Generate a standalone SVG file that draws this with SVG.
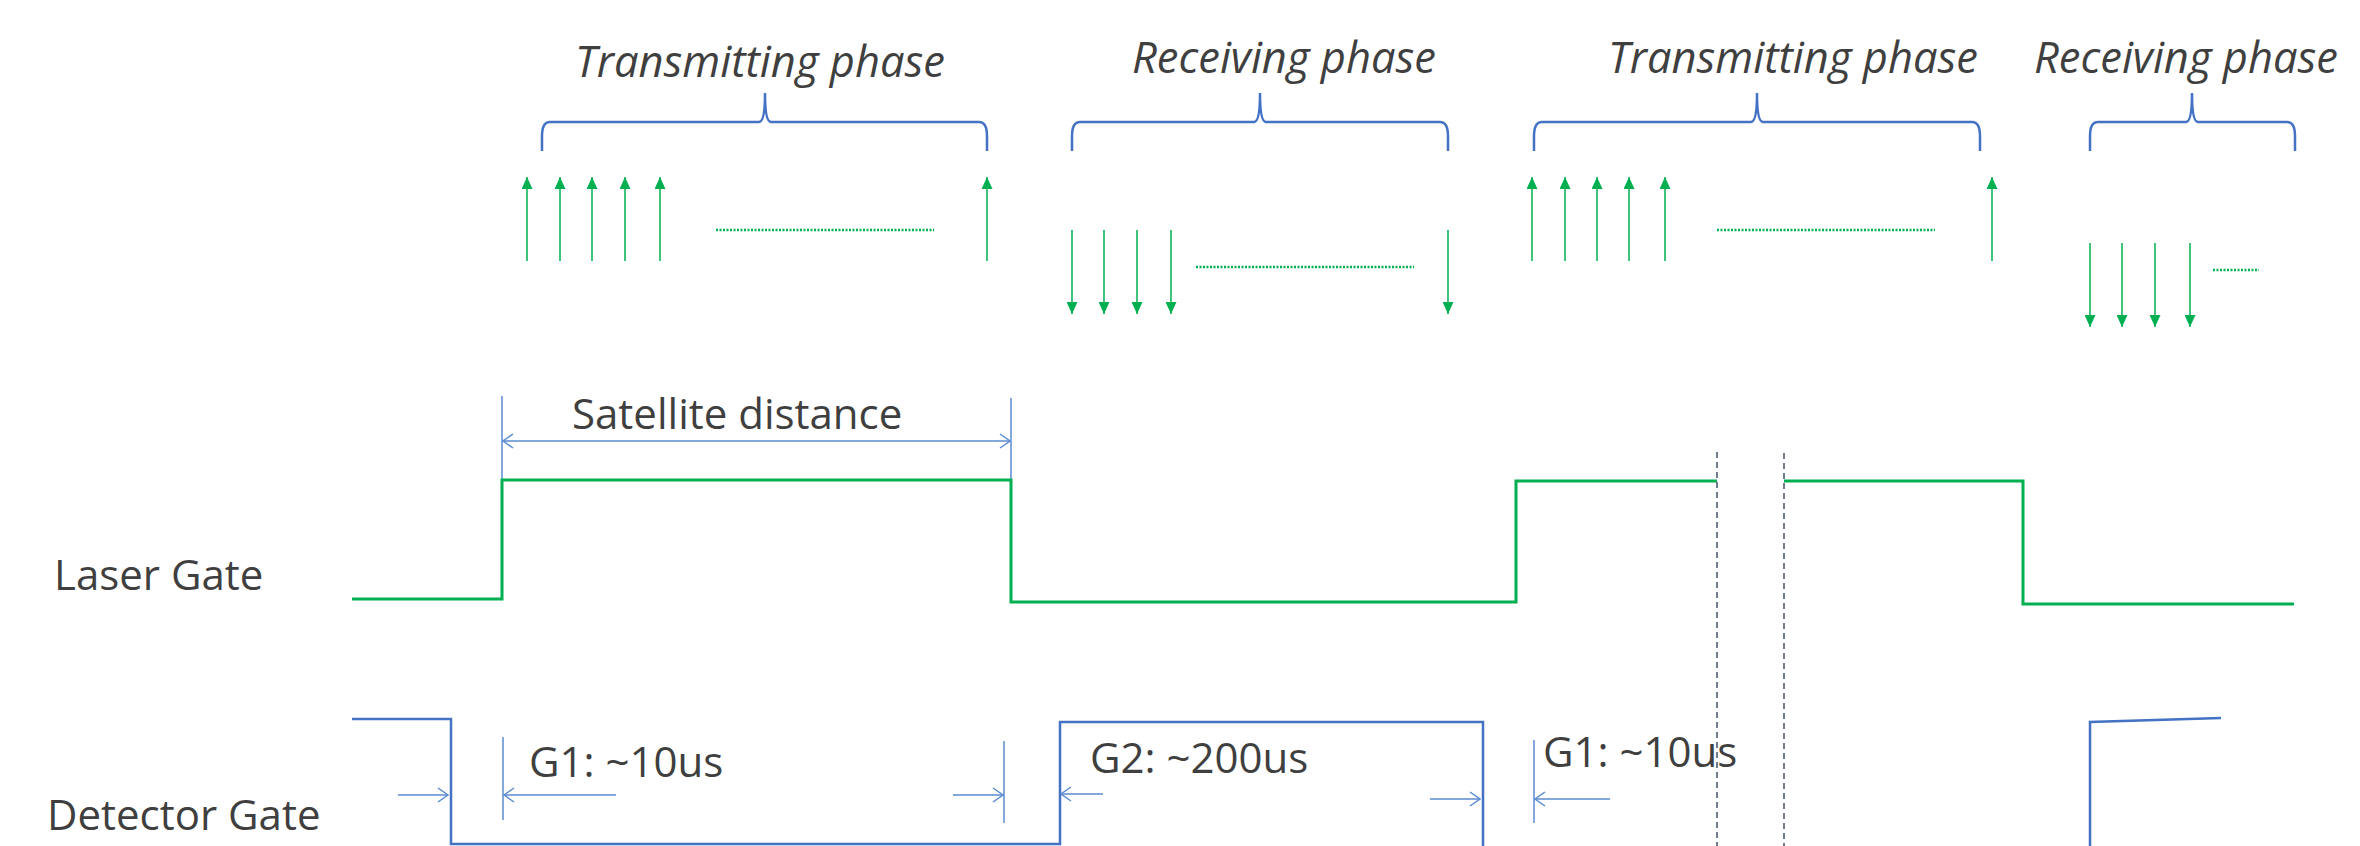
<svg xmlns="http://www.w3.org/2000/svg" width="2360" height="846" viewBox="0 0 2360 846">
<defs>
<style>
.t{font-family:"Open Sans","Liberation Sans",sans-serif;font-size:42px;fill:#3f3f3f}
.h{font-family:"Open Sans","Liberation Sans",sans-serif;font-size:43.5px;font-style:italic;fill:#3f3f3f;text-anchor:middle}
.brace{fill:none;stroke:#4472C4;stroke-width:2.5}
.sig{fill:none;stroke:#00B050;stroke-width:3}
.det{fill:none;stroke:#4472C4;stroke-width:2.5}
.pulse{stroke:#00B050;stroke-width:1.5;fill:none}
.dots{stroke:#00B050;stroke-width:2.5;stroke-dasharray:2 1.5;fill:none}
.dim{stroke:#5B8BD0;stroke-width:1.5;fill:none}
.dash{stroke:#44546A;stroke-width:1.5;stroke-dasharray:6 4;fill:none}
</style>
<marker id="head" viewBox="0 0 12 11" refX="12" refY="5.5" markerWidth="12" markerHeight="11" markerUnits="userSpaceOnUse" orient="auto">
<path d="M0,0 L12,5.5 L0,11 Z" fill="#00B050"/>
</marker>
<marker id="open" viewBox="0 0 12 16" refX="11" refY="8" markerWidth="12" markerHeight="16" markerUnits="userSpaceOnUse" orient="auto-start-reverse">
<path d="M1,1 L11,8 L1,15" fill="none" stroke="#5B8BD0" stroke-width="1.5"/>
</marker>
</defs>

<g id="headings">
<text class="h" x="760" y="77">Transmitting phase</text>
<text class="h" x="1284" y="73">Receiving phase</text>
<text class="h" x="1793" y="73">Transmitting phase</text>
<text class="h" x="2186" y="73">Receiving phase</text>
</g>

<g id="braces">
<path class="brace" d="M542,151 L542,136 Q542,122 550,122 L759,122 C763,122 765,112 765,93 C765,112 767,122 771,122 L979,122 Q987,122 987,136 L987,151"/>
<path class="brace" d="M1072,151 L1072,136 Q1072,122 1080,122 L1254,122 C1258,122 1260,112 1260,93 C1260,112 1262,122 1266,122 L1440,122 Q1448,122 1448,136 L1448,151"/>
<path class="brace" d="M1534,151 L1534,136 Q1534,122 1542,122 L1751,122 C1755,122 1757,112 1757,93 C1757,112 1759,122 1763,122 L1972,122 Q1980,122 1980,136 L1980,151"/>
<path class="brace" d="M2090,151 L2090,136 Q2090,122 2098,122 L2186,122 C2190,122 2192,112 2192,93 C2192,112 2194,122 2198,122 L2287,122 Q2295,122 2295,136 L2295,151"/>
</g>

<g id="pulses-tx1">
<line class="pulse" x1="527" y1="261" x2="527" y2="177" marker-end="url(#head)"/>
<line class="pulse" x1="560" y1="261" x2="560" y2="177" marker-end="url(#head)"/>
<line class="pulse" x1="592" y1="261" x2="592" y2="177" marker-end="url(#head)"/>
<line class="pulse" x1="625" y1="261" x2="625" y2="177" marker-end="url(#head)"/>
<line class="pulse" x1="660" y1="261" x2="660" y2="177" marker-end="url(#head)"/>
<line class="pulse" x1="987" y1="261" x2="987" y2="177" marker-end="url(#head)"/>
<line class="dots" x1="716" y1="230" x2="934" y2="230"/>
</g>

<g id="pulses-rx1">
<line class="pulse" x1="1072" y1="230" x2="1072" y2="314" marker-end="url(#head)"/>
<line class="pulse" x1="1104" y1="230" x2="1104" y2="314" marker-end="url(#head)"/>
<line class="pulse" x1="1137" y1="230" x2="1137" y2="314" marker-end="url(#head)"/>
<line class="pulse" x1="1171" y1="230" x2="1171" y2="314" marker-end="url(#head)"/>
<line class="pulse" x1="1448" y1="230" x2="1448" y2="314" marker-end="url(#head)"/>
<line class="dots" x1="1196" y1="267" x2="1414" y2="267"/>
</g>

<g id="pulses-tx2">
<line class="pulse" x1="1532" y1="261" x2="1532" y2="177" marker-end="url(#head)"/>
<line class="pulse" x1="1565" y1="261" x2="1565" y2="177" marker-end="url(#head)"/>
<line class="pulse" x1="1597" y1="261" x2="1597" y2="177" marker-end="url(#head)"/>
<line class="pulse" x1="1629" y1="261" x2="1629" y2="177" marker-end="url(#head)"/>
<line class="pulse" x1="1665" y1="261" x2="1665" y2="177" marker-end="url(#head)"/>
<line class="pulse" x1="1992" y1="261" x2="1992" y2="177" marker-end="url(#head)"/>
<line class="dots" x1="1717" y1="230" x2="1935" y2="230"/>
</g>

<g id="pulses-rx2">
<line class="pulse" x1="2090" y1="243" x2="2090" y2="327" marker-end="url(#head)"/>
<line class="pulse" x1="2122" y1="243" x2="2122" y2="327" marker-end="url(#head)"/>
<line class="pulse" x1="2155" y1="243" x2="2155" y2="327" marker-end="url(#head)"/>
<line class="pulse" x1="2190" y1="243" x2="2190" y2="327" marker-end="url(#head)"/>
<line class="dots" x1="2213" y1="270" x2="2259" y2="270"/>
</g>

<g id="labels">
<text class="t" x="54" y="590">Laser Gate</text>
<text class="t" x="47" y="830">Detector Gate</text>
</g>

<g id="satellite-distance">
<line class="dim" x1="502" y1="396" x2="502" y2="480"/>
<line class="dim" x1="1011" y1="398" x2="1011" y2="523"/>
<line class="dim" x1="503" y1="441" x2="1010" y2="441" marker-start="url(#open)" marker-end="url(#open)"/>
<text class="t" x="572" y="429">Satellite distance</text>
</g>

<g id="laser-gate">
<path class="sig" d="M352,599 L502,599 L502,480 L1011,480 L1011,602 L1516,602 L1516,481 L1717,481"/>
<path class="sig" d="M1784,481 L2023,481 L2023,604 L2294,604"/>
</g>

<g id="detector-gate">
<path class="det" d="M352,719 L451,719 L451,844 L1060,844 L1060,722 L1483,722 L1483,846"/>
<path class="det" d="M2090,846 L2090,722 L2221,718"/>
</g>

<g id="gate-dimensions">
<line class="dim" x1="398" y1="795" x2="448" y2="795" marker-end="url(#open)"/>
<line class="dim" x1="503" y1="737" x2="503" y2="820"/>
<line class="dim" x1="616" y1="795" x2="504" y2="795" marker-end="url(#open)"/>
<text class="t" x="529" y="777">G1: ~10us</text>
<line class="dim" x1="953" y1="795" x2="1003" y2="795" marker-end="url(#open)"/>
<line class="dim" x1="1004" y1="741" x2="1004" y2="823"/>
<line class="dim" x1="1103" y1="794" x2="1061" y2="794" marker-end="url(#open)"/>
<text class="t" x="1090" y="773">G2: ~200us</text>
<line class="dim" x1="1430" y1="799" x2="1480" y2="799" marker-end="url(#open)"/>
<line class="dim" x1="1534" y1="740" x2="1534" y2="823"/>
<line class="dim" x1="1610" y1="799" x2="1535" y2="799" marker-end="url(#open)"/>
<text class="t" x="1543" y="767">G1: ~10us</text>
</g>

<g id="time-break">
<line class="dash" x1="1717" y1="452" x2="1717" y2="846"/>
<line class="dash" x1="1784" y1="453" x2="1784" y2="846"/>
</g>
</svg>
